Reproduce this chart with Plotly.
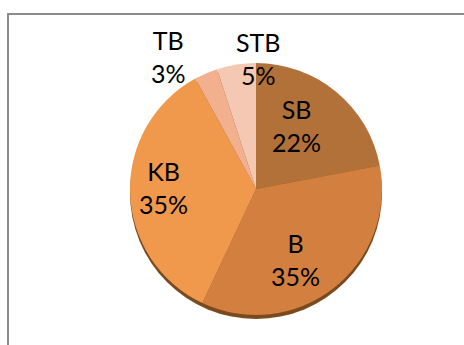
import plotly.graph_objects as go

labels = ["SB", "B", "KB", "TB", "STB"]
values = [22, 35, 35, 3, 5]
colors = ["#B3713A", "#D27F3F", "#F0994D", "#F2B08F", "#F4C8B3"]
# pixel centres of the data-label blocks
label_pos = {"SB": (296, 125), "B": (295, 259), "KB": (163, 187), "TB": (168, 57), "STB": (258, 58)}

W, H = 464, 345
cx, cy, r = 256, 189, 126
FONT = dict(family="Lato", size=25, color="#000000")

def dom(cx, cy, r):
    return dict(x=[(cx - r) / W, (cx + r) / W], y=[1 - (cy + r) / H, 1 - (cy - r) / H])

total = sum(values)
annotations = []
for lab, v in zip(labels, values):
    pct = f"{round(100 * v / total)}%"
    px, py = label_pos[lab]
    annotations.append(dict(x=px / W, y=1 - py / H, xref="paper", yref="paper",
                            text=f"{lab}<br>{pct}", showarrow=False, font=FONT,
                            xanchor="center", yanchor="middle"))

fig = go.Figure()
# shadow beneath the pie
fig.add_trace(go.Pie(
    values=[total], labels=["shadow"], marker=dict(colors=["#7A4A1E"], line=dict(width=0)),
    textinfo="none", hoverinfo="skip", showlegend=False, sort=False,
    domain=dom(cx, cy + 4, r),
))
fig.add_trace(go.Pie(
    labels=labels, values=values, sort=False, direction="clockwise", rotation=0,
    marker=dict(colors=colors, line=dict(width=0)),
    textinfo="none",
    hovertemplate="%{label}: %{percent:.0%}<extra></extra>",
    showlegend=False,
    domain=dom(cx, cy, r),
))
fig.update_layout(
    width=W, height=H, margin=dict(l=0, r=0, t=0, b=0, autoexpand=False),
    paper_bgcolor="white", plot_bgcolor="white",
    annotations=annotations,
    shapes=[dict(type="rect", xref="paper", yref="paper", layer="below",
                 x0=8 / W, x1=1.05, y0=-0.05, y1=1 - 14 / H,
                 line=dict(color="#8C8C8C", width=2), fillcolor="rgba(0,0,0,0)")],
)
fig.write_html("out.html")
